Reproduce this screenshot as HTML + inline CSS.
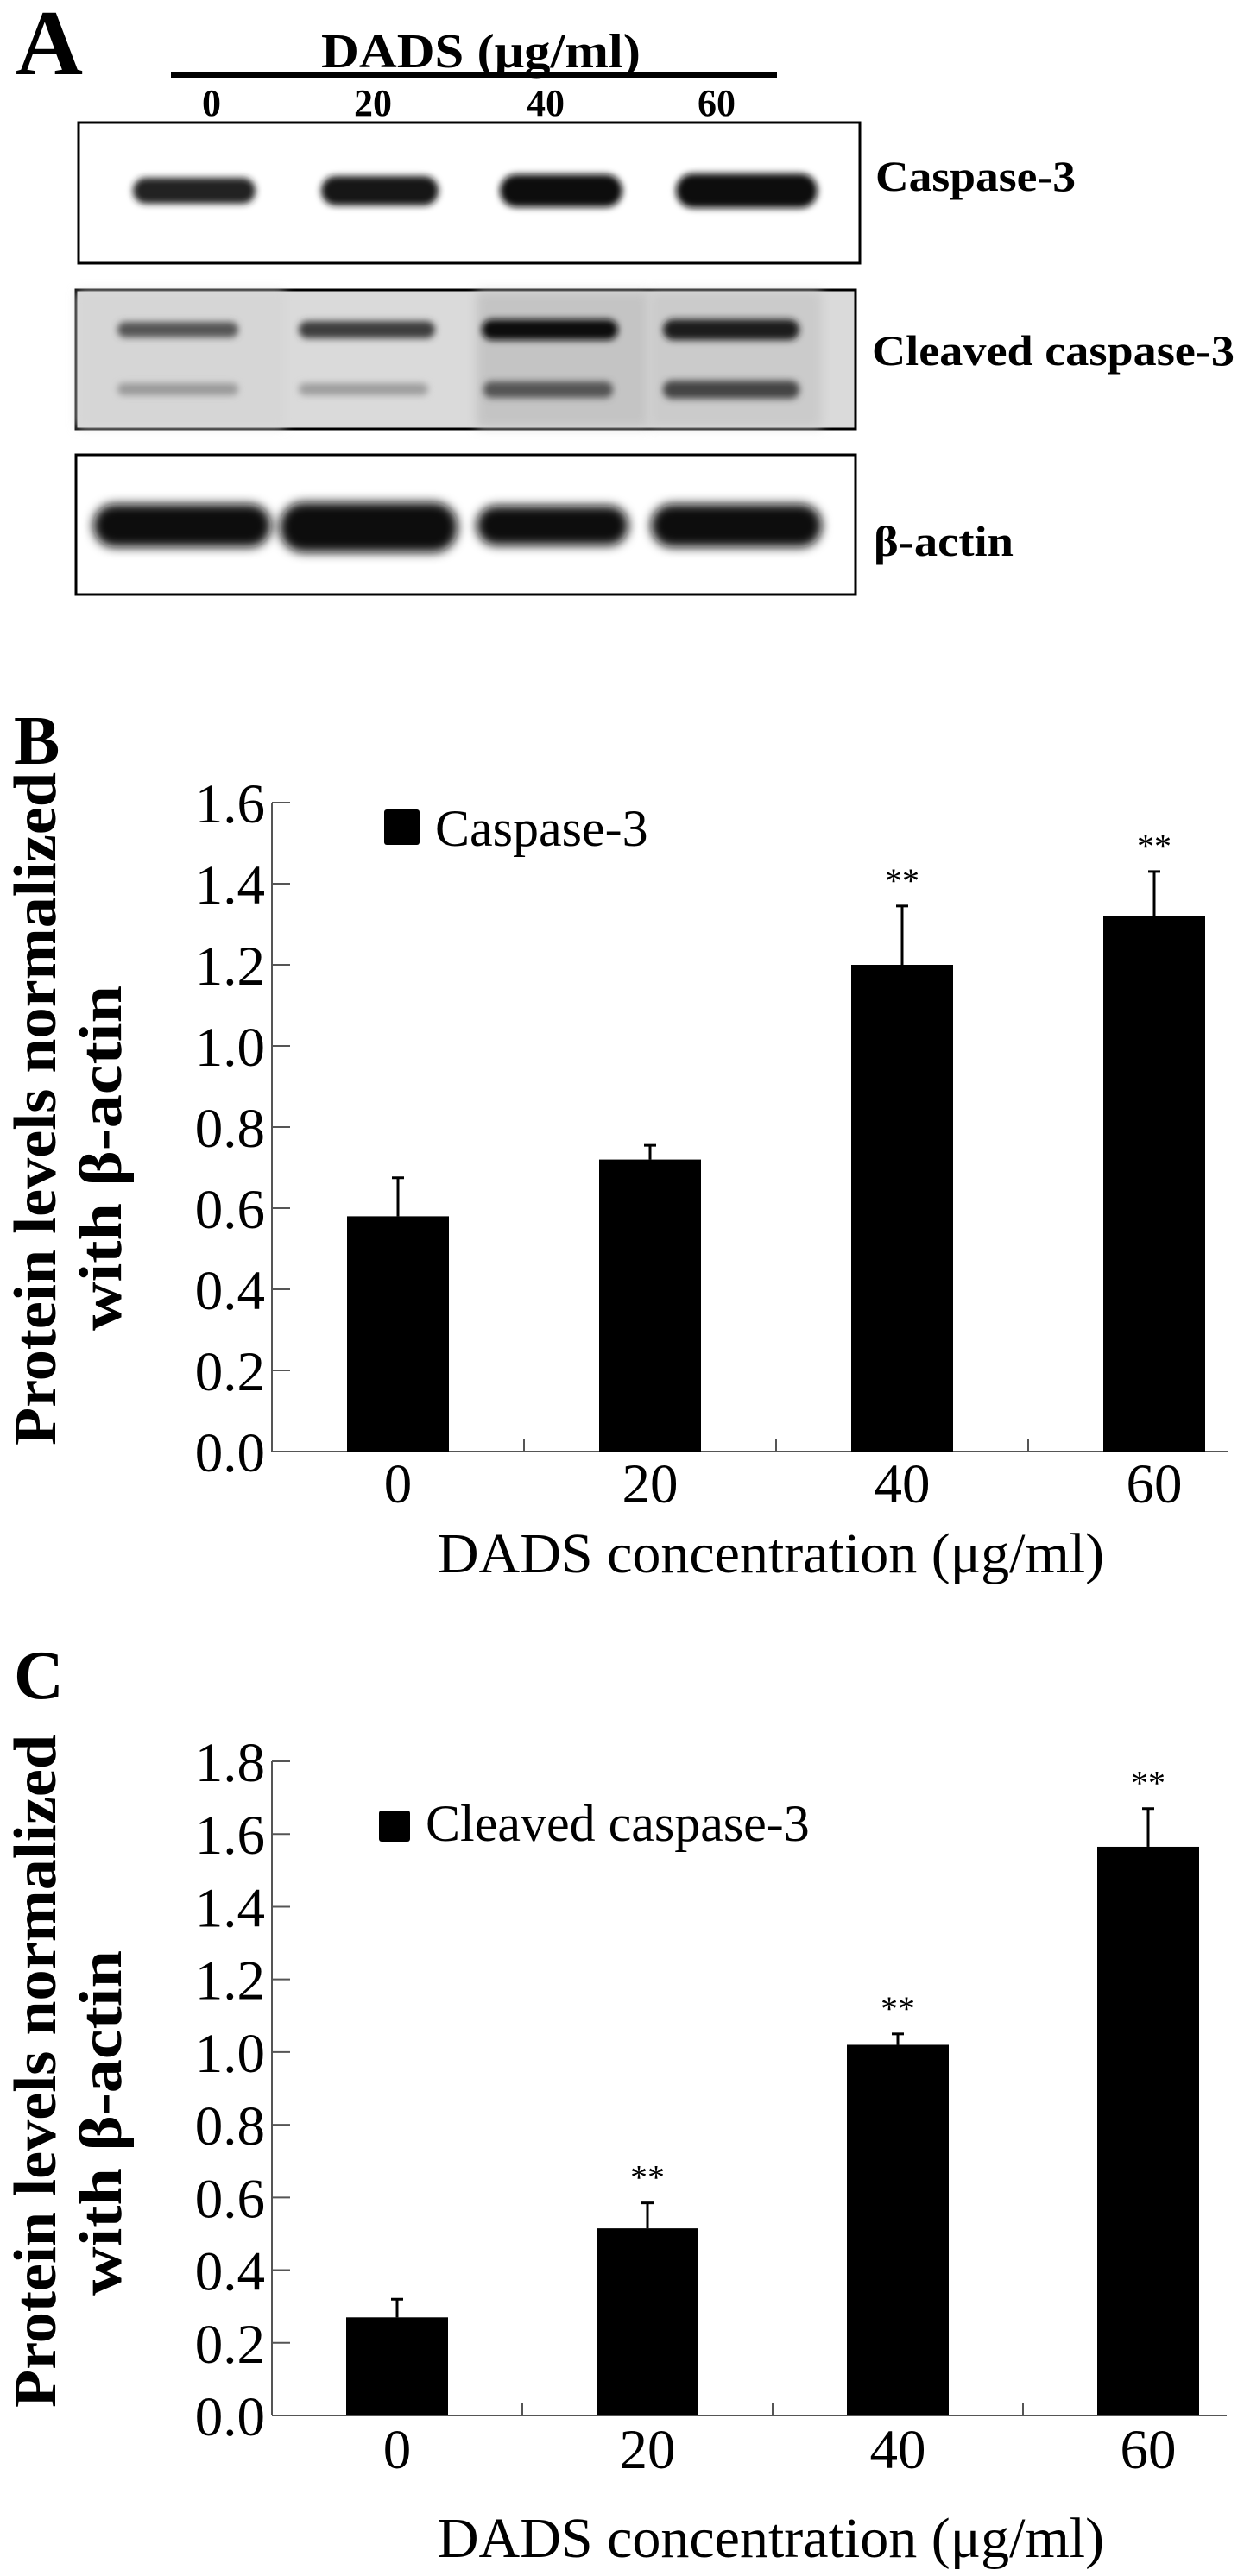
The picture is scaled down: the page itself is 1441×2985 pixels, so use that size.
<!DOCTYPE html>
<html><head><meta charset="utf-8"><style>
html,body{margin:0;padding:0;background:#fff;}
svg{display:block;}
svg, svg text{font-family:"Liberation Serif","Times New Roman","DejaVu Serif",serif;}
</style></head><body>
<svg id="fig" width="1441" height="2985" viewBox="0 0 1441 2985" xmlns="http://www.w3.org/2000/svg" font-family="Liberation Serif, Times New Roman, serif">
<defs>
<filter id="blur" x="-20%" y="-100%" width="140%" height="300%"><feGaussianBlur stdDeviation="6"/></filter>
<filter id="blur2" x="-20%" y="-100%" width="140%" height="300%"><feGaussianBlur stdDeviation="4"/></filter>
</defs>
<g>
<text x="18" y="86" font-size="108" font-weight="bold">A</text>
<text x="372" y="78" font-size="56" font-weight="bold" textLength="370" lengthAdjust="spacingAndGlyphs">DADS (μg/ml)</text>
<rect x="198" y="84" width="702" height="6" fill="#000"/>
<g font-size="44" font-weight="bold" text-anchor="middle">
<text x="245" y="134">0</text><text x="432" y="134">20</text><text x="632" y="134">40</text><text x="830" y="134">60</text>
</g>
<rect x="91" y="142" width="905" height="163" fill="#fff" stroke="#000" stroke-width="3"/>
<g filter="url(#blur2)">
<rect x="154" y="206" width="142" height="30" rx="15" fill="#222"/>
<rect x="372" y="204" width="136" height="34" rx="17" fill="#151515"/>
<rect x="579" y="202" width="142" height="38" rx="19" fill="#0c0c0c"/>
<rect x="783" y="201" width="164" height="40" rx="20" fill="#080808"/>
</g>
<text x="1014" y="221" font-size="50" font-weight="bold" textLength="232" lengthAdjust="spacingAndGlyphs">Caspase-3</text>
<rect x="88" y="336" width="903" height="161" fill="#dadada" stroke="#000" stroke-width="3"/>
<rect x="90" y="338" width="240" height="157" fill="#d6d6d6" filter="url(#blur)"/>
<rect x="552" y="338" width="200" height="157" fill="#c4c4c4" filter="url(#blur)"/>
<rect x="752" y="338" width="200" height="157" fill="#cbcbcb" filter="url(#blur)"/>
<g filter="url(#blur2)">
<rect x="136" y="373" width="140" height="18" rx="9" fill="#555"/>
<rect x="346" y="372" width="158" height="20" rx="10" fill="#3d3d3d"/>
<rect x="558" y="370" width="158" height="24" rx="12" fill="#111"/>
<rect x="768" y="370" width="158" height="24" rx="12" fill="#1a1a1a"/>
<rect x="136" y="444" width="140" height="14" rx="7" fill="#9a9a9a"/>
<rect x="346" y="444" width="150" height="14" rx="7" fill="#9e9e9e"/>
<rect x="560" y="442" width="150" height="19" rx="9" fill="#555"/>
<rect x="768" y="441" width="158" height="21" rx="10" fill="#444"/>
</g>
<text x="1010" y="423" font-size="50" font-weight="bold" textLength="420" lengthAdjust="spacingAndGlyphs">Cleaved caspase-3</text>
<rect x="88" y="527" width="903" height="162" fill="#fff" stroke="#000" stroke-width="3"/>
<g filter="url(#blur)">
<rect x="108" y="584" width="206" height="50" rx="25" fill="#0a0a0a"/>
<rect x="324" y="582" width="206" height="58" rx="28" fill="#0a0a0a"/>
<rect x="552" y="586" width="176" height="46" rx="23" fill="#0a0a0a"/>
<rect x="754" y="584" width="198" height="50" rx="25" fill="#0a0a0a"/>
</g>
<text x="1012" y="644" font-size="50" font-weight="bold" textLength="162" lengthAdjust="spacingAndGlyphs">β-actin</text>
</g>
<g id="chartB">
<text x="16" y="885" font-size="80" font-weight="bold">B</text>
</g>
<g id="chartC">
<text x="16" y="1968" font-size="80" font-weight="bold">C</text>
</g>
</svg>
<script>
const categories = ["0", "20", "40", "60"];
const bValues = [0.58, 0.72, 1.2, 1.32];
const bErrors = [0.095, 0.035, 0.145, 0.11];
const bSig = ["", "", "**", "**"];
const bTicks = [0.0, 0.2, 0.4, 0.6, 0.8, 1.0, 1.2, 1.4, 1.6];
const cValues = [0.27, 0.515, 1.02, 1.565];
const cErrors = [0.05, 0.07, 0.03, 0.105];
const cSig = ["", "**", "**", "**"];
const cTicks = [0.0, 0.2, 0.4, 0.6, 0.8, 1.0, 1.2, 1.4, 1.6, 1.8];

const NS = "http://www.w3.org/2000/svg";
const FF = "Liberation Serif, Times New Roman, serif";
function mk(parent, tag, attrs, txt) {
  const e = document.createElementNS(NS, tag);
  for (const k in attrs) e.setAttribute(k, attrs[k]);
  if (txt !== undefined) { e.textContent = txt; e.setAttribute("font-family", FF); }
  parent.appendChild(e);
  return e;
}
function drawChart(g, cfg) {
  const y = v => cfg.y0 - (v / cfg.ymax) * (cfg.y0 - cfg.ytop);
  const x = i => cfg.x0 + cfg.step * (i + 0.5);
  const ya = mk(g, "line", {x1: cfg.x0, y1: cfg.ytop, x2: cfg.x0, y2: cfg.y0, stroke: "#555", "stroke-width": 2});
  
  
  const xa = mk(g, "line", {x1: cfg.x0, y1: cfg.y0, x2: cfg.xend, y2: cfg.y0, stroke: "#555", "stroke-width": 2});
  
  
  cfg.ticks.forEach(t => {
    const ty = y(t);
    const tl = mk(g, "line", {x1: cfg.x0, y1: ty, x2: cfg.x0 + 21, y2: ty, stroke: "#555", "stroke-width": 2});
    
    
    const lab = mk(g, "text", {x: cfg.x0 - 8, y: ty + 23, "font-size": 65, "text-anchor": "end"}, t.toFixed(1));
    
    
  });
  for (let i = 1; i < categories.length; i++) {
    const xt = cfg.x0 + cfg.step * i;
    const tk = mk(g, "line", {x1: xt, y1: cfg.y0, x2: xt, y2: cfg.y0 - 14, stroke: "#555", "stroke-width": 2});
    
    
  }
  categories.forEach((c, i) => {
    const cx = x(i);
    const top = y(cfg.values[i]);
    const et = y(cfg.values[i] + cfg.errors[i]);
    const el = mk(g, "line", {x1: cx, y1: top, x2: cx, y2: et, stroke: "#000", "stroke-width": 3});
    
    
    const ec = mk(g, "line", {x1: cx - 7, y1: et, x2: cx + 7, y2: et, stroke: "#000", "stroke-width": 3});
    
    
    const b = mk(g, "rect", {x: cx - 59, y: top, width: 118, height: cfg.y0 - top, fill: "#000"});
    
    
    if (cfg.sig[i]) {
      const s = mk(g, "text", {x: cx, y: et - 16, "font-size": 40, "text-anchor": "middle"}, cfg.sig[i]);
      
      
    }
    const xl = mk(g, "text", {x: cx, y: cfg.xlabY, "font-size": 65, "text-anchor": "middle"}, c);
    
    
  });
  const xt = mk(g, "text", {x: cfg.xtitleX, y: cfg.xtitleY, "font-size": 66, "text-anchor": "middle"}, "DADS concentration (μg/ml)");
  
  
  const t1 = mk(g, "text", {transform: "translate(64," + cfg.t1c + ") rotate(-90)", "font-size": 70, "font-weight": "bold", "text-anchor": "middle", textLength: 780, lengthAdjust: "spacingAndGlyphs"}, "Protein levels normalized");
  
  
  const t2 = mk(g, "text", {transform: "translate(140," + cfg.t2c + ") rotate(-90)", "font-size": 70, "font-weight": "bold", "text-anchor": "middle", textLength: 400, lengthAdjust: "spacingAndGlyphs"}, "with β-actin");
  
  
  const ls = mk(g, "rect", {x: cfg.leg[0], y: cfg.leg[1], width: cfg.leg[2], height: cfg.leg[2], rx: 3, fill: "#000"});
  
  
  const lt = mk(g, "text", {x: cfg.leg[0] + cfg.leg[2] + 18, y: cfg.leg[3], "font-size": 60}, cfg.legText);
  
  
}
drawChart(document.getElementById("chartB"), {
  x0: 315, y0: 1682, ytop: 930, ymax: 1.6, step: 292, xend: 1423,
  values: bValues, errors: bErrors, sig: bSig, ticks: bTicks,
  xlabY: 1741, xtitleX: 893, xtitleY: 1822, t1c: 1285, t2c: 1342,
  leg: [445, 938, 41, 980], legText: "Caspase-3"
});
drawChart(document.getElementById("chartC"), {
  x0: 315, y0: 2799, ytop: 2041, ymax: 1.8, step: 290, xend: 1421,
  values: cValues, errors: cErrors, sig: cSig, ticks: cTicks,
  xlabY: 2860, xtitleX: 893, xtitleY: 2963, t1c: 2400, t2c: 2460,
  leg: [439, 2098, 36, 2133], legText: "Cleaved caspase-3"
});
</script>
</body></html>
